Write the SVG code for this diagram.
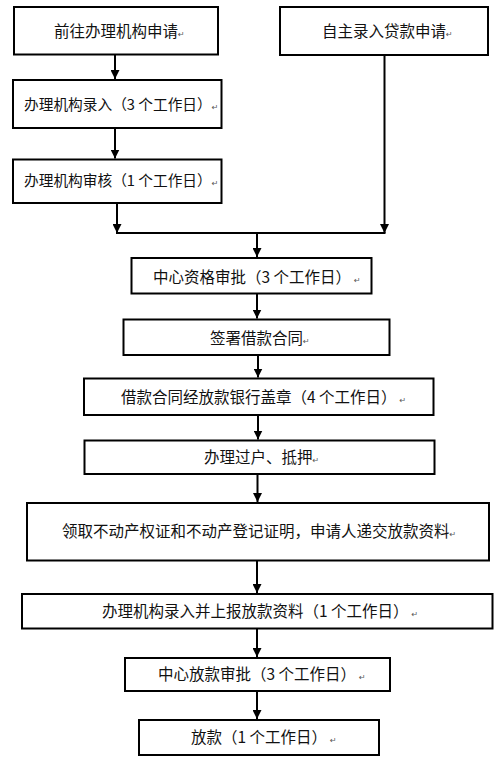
<svg xmlns="http://www.w3.org/2000/svg" width="500" height="764" viewBox="0 0 500 764">
<defs>
<style>
.box{fill:#fff;stroke:#000;stroke-width:2}
.t{font-family:"Noto Sans CJK SC","Noto Sans CJK TC",sans-serif;font-size:15.5px;fill:#111}
.s{font-size:14.7px}
.r{font-family:"DejaVu Sans",sans-serif;font-size:8px;fill:#555}
.c{fill:none;stroke:#000;stroke-width:2}
</style>
<marker id="ah" markerUnits="userSpaceOnUse" markerWidth="9" markerHeight="9" refX="9" refY="4.5" orient="auto">
<path d="M0,0 L9,4.5 L0,9 z" fill="#000"/>
</marker>
</defs>
<rect width="500" height="764" fill="#fff"/>
<g id="connectors">
<line class="c" x1="115" y1="55" x2="115" y2="79" marker-end="url(#ah)"/>
<line class="c" x1="115" y1="128" x2="115" y2="158.5" marker-end="url(#ah)"/>
<line class="c" x1="117" y1="203" x2="117" y2="233" marker-end="url(#ah)"/>
<line class="c" x1="384.5" y1="55" x2="384.5" y2="233" marker-end="url(#ah)"/>
<line class="c" x1="116" y1="233" x2="385.5" y2="233"/>
<line class="c" x1="257" y1="233" x2="257" y2="257" marker-end="url(#ah)"/>
<line class="c" x1="257" y1="293.5" x2="257" y2="318.5" marker-end="url(#ah)"/>
<line class="c" x1="258" y1="355" x2="258" y2="377.5" marker-end="url(#ah)"/>
<line class="c" x1="258" y1="415" x2="258" y2="439.5" marker-end="url(#ah)"/>
<line class="c" x1="257.5" y1="474" x2="257.5" y2="502" marker-end="url(#ah)"/>
<line class="c" x1="257" y1="560.5" x2="257" y2="593" marker-end="url(#ah)"/>
<line class="c" x1="257" y1="628.5" x2="257" y2="657" marker-end="url(#ah)"/>
<line class="c" x1="257" y1="691" x2="257" y2="719" marker-end="url(#ah)"/>
</g>
<g id="n1"><rect class="box" x="14" y="7" width="204" height="47.5"/><text class="t" x="54" y="37">前往办理机构申请<tspan class="r">↵</tspan></text></g>
<g id="n2"><rect class="box" x="280" y="7" width="208" height="48"/><text class="t" x="322" y="37">自主录入贷款申请<tspan class="r">↵</tspan></text></g>
<g id="n3"><rect class="box" x="13" y="80" width="208.5" height="48"/><text class="t s" x="24" y="110">办理机构录入（3 个工作日）<tspan class="r">↵</tspan></text></g>
<g id="n4"><rect class="box" x="13" y="159.5" width="208.5" height="43.5"/><text class="t s" x="24" y="186">办理机构审核（1 个工作日）<tspan class="r">↵</tspan></text></g>
<g id="n5"><rect class="box" x="131.5" y="258" width="240" height="35.5"/><text class="t" x="153" y="283">中心资格审批（3 个工作日）<tspan class="r" dx="3">↵</tspan></text></g>
<g id="n6"><rect class="box" x="123.5" y="319.5" width="266" height="35.5"/><text class="t" x="210" y="344">签署借款合同<tspan class="r">↵</tspan></text></g>
<g id="n7"><rect class="box" x="84" y="378.5" width="349.5" height="36.5"/><text class="t" x="121" y="403">借款合同经放款银行盖章（4 个工作日）<tspan class="r" dx="3">↵</tspan></text></g>
<g id="n8"><rect class="box" x="84.5" y="440.5" width="350" height="33.5"/><text class="t" x="204" y="463">办理过户、抵押<tspan class="r">↵</tspan></text></g>
<g id="n9"><rect class="box" x="27" y="503" width="462" height="57.5"/><text class="t" x="62" y="537">领取不动产权证和不动产登记证明，申请人递交放款资料<tspan class="r">↵</tspan></text></g>
<g id="n10"><rect class="box" x="22" y="594" width="470.5" height="34.5"/><text class="t" x="102" y="617">办理机构录入并上报放款资料（1 个工作日）<tspan class="r" dx="3">↵</tspan></text></g>
<g id="n11"><rect class="box" x="125" y="658" width="265" height="33"/><text class="t" x="158" y="680">中心放款审批（3 个工作日）<tspan class="r" dx="3">↵</tspan></text></g>
<g id="n12"><rect class="box" x="139" y="720" width="240" height="35"/><text class="t" x="191" y="743">放款（1 个工作日）<tspan class="r" dx="3">↵</tspan></text></g>
</svg>
